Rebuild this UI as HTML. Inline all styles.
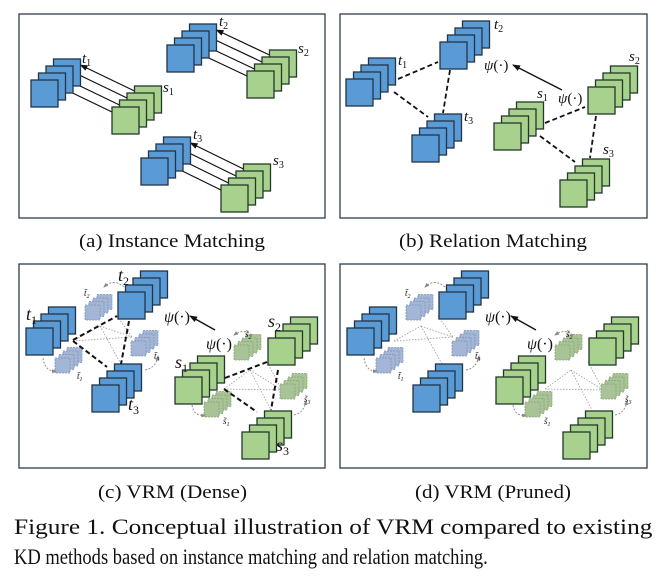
<!DOCTYPE html>
<html><head><meta charset="utf-8"><style>
html,body{margin:0;padding:0;background:#fff;width:672px;height:581px;overflow:hidden}
text{font-family:"Liberation Serif",serif;fill:#111}
</style></head><body>
<svg width="672" height="581" viewBox="0 0 672 581" xmlns="http://www.w3.org/2000/svg">
<defs>
<g id="bs" stroke="#223448" stroke-width="1.3" fill="#5b9bd5">
<rect x="22.5" y="-21" width="27" height="27"/><rect x="15" y="-14" width="27" height="27"/><rect x="7.5" y="-7" width="27" height="27"/><rect x="0" y="0" width="27" height="27"/></g>
<g id="gs" stroke="#223a28" stroke-width="1.3" fill="#a9d18e">
<rect x="22.5" y="-21" width="27" height="27"/><rect x="15" y="-14" width="27" height="27"/><rect x="7.5" y="-7" width="27" height="27"/><rect x="0" y="0" width="27" height="27"/></g>
<g id="fb" stroke="#7f95b8" stroke-width="0.8" stroke-dasharray="2,1" fill="#a3b6d6">
<rect x="12" y="-10.5" width="15" height="15"/><rect x="8" y="-7" width="15" height="15"/><rect x="4" y="-3.5" width="15" height="15"/><rect x="0" y="0" width="15" height="15"/></g>
<g id="fg" stroke="#86a277" stroke-width="0.8" stroke-dasharray="2,1" fill="#a8c497">
<rect x="12" y="-10.5" width="15" height="15"/><rect x="8" y="-7" width="15" height="15"/><rect x="4" y="-3.5" width="15" height="15"/><rect x="0" y="0" width="15" height="15"/></g>
<marker id="ah" markerWidth="8" markerHeight="6" refX="7" refY="3" orient="auto" markerUnits="userSpaceOnUse"><path d="M0,0 L8,3 L0,6 z" fill="#111"/></marker>
<marker id="ah2" markerWidth="5" markerHeight="4" refX="4" refY="2" orient="auto" markerUnits="userSpaceOnUse"><path d="M0,0 L5,2 L0,4 z" fill="#888"/></marker>
</defs>

<!-- frames -->
<g fill="none" stroke="#2d3d4d" stroke-width="1.3">
<rect x="19" y="14" width="306" height="204"/>
<rect x="340" y="14" width="307" height="204"/>
<rect x="19" y="264" width="306" height="204"/>
<rect x="340" y="264" width="307" height="204"/>
</g>

<!-- (a) -->
<g stroke="#111" stroke-width="1.2" marker-end="url(#ah)">
<line x1="112" y1="112" x2="58" y2="86"/><line x1="119.5" y1="105" x2="65.5" y2="79"/><line x1="127" y1="98" x2="73" y2="72"/><line x1="134.5" y1="91" x2="80.5" y2="65"/>
<line x1="247" y1="76" x2="194" y2="51"/><line x1="254.5" y1="69" x2="201.5" y2="44"/><line x1="262" y1="62" x2="209" y2="37"/><line x1="269.5" y1="55" x2="216.5" y2="30"/>
<line x1="221" y1="190" x2="168" y2="164"/><line x1="228.5" y1="183" x2="175.5" y2="157"/><line x1="236" y1="176" x2="183" y2="150"/><line x1="243.5" y1="169" x2="190.5" y2="143"/>
</g>
<use href="#bs" x="31" y="80"/><use href="#gs" x="112" y="107"/>
<use href="#bs" x="167" y="45"/><use href="#gs" x="247" y="71"/>
<use href="#bs" x="141" y="158"/><use href="#gs" x="221" y="185"/>
<g font-size="15" font-style="italic">
<text x="82" y="63">t<tspan font-size="10" font-style="normal" dy="3">1</tspan></text>
<text x="163" y="92">s<tspan font-size="10" font-style="normal" dy="3">1</tspan></text>
<text x="219" y="26">t<tspan font-size="10" font-style="normal" dy="3">2</tspan></text>
<text x="298" y="53">s<tspan font-size="10" font-style="normal" dy="3">2</tspan></text>
<text x="193" y="139">t<tspan font-size="10" font-style="normal" dy="3">3</tspan></text>
<text x="273" y="165">s<tspan font-size="10" font-style="normal" dy="3">3</tspan></text>
</g>
<text x="79" y="247" font-size="19" textLength="186" lengthAdjust="spacingAndGlyphs">(a) Instance Matching</text>

<!-- (b) -->
<use href="#bs" x="346" y="79"/><use href="#bs" x="440" y="42"/><use href="#bs" x="412" y="135"/>
<use href="#gs" x="494" y="123"/><use href="#gs" x="588" y="87"/><use href="#gs" x="560" y="180"/>
<g stroke="#111" stroke-width="1.8" stroke-dasharray="5,3">
<line x1="398" y1="79" x2="438" y2="62"/><line x1="394" y1="92" x2="428" y2="117"/><line x1="450" y1="70" x2="443" y2="113"/>
<line x1="545" y1="123" x2="585" y2="107"/><line x1="540" y1="136" x2="575" y2="162"/><line x1="596" y1="116" x2="590" y2="158"/>
</g>
<line x1="562" y1="90" x2="513" y2="65" stroke="#111" stroke-width="1.3" marker-end="url(#ah)"/>
<g font-size="15" font-style="italic">
<text x="484" y="70">ψ<tspan font-style="normal">(·)</tspan></text>
<text x="558" y="103">ψ<tspan font-style="normal">(·)</tspan></text>
<text x="398" y="65">t<tspan font-size="10" font-style="normal" dy="3">1</tspan></text>
<text x="494" y="29">t<tspan font-size="10" font-style="normal" dy="3">2</tspan></text>
<text x="464" y="121">t<tspan font-size="10" font-style="normal" dy="3">3</tspan></text>
<text x="537" y="98">s<tspan font-size="10" font-style="normal" dy="3">1</tspan></text>
<text x="629" y="61">s<tspan font-size="10" font-style="normal" dy="3">2</tspan></text>
<text x="603" y="154">s<tspan font-size="10" font-style="normal" dy="3">3</tspan></text>
</g>
<text x="399" y="247" font-size="19" textLength="188" lengthAdjust="spacingAndGlyphs">(b) Relation Matching</text>

<!-- (c) and (d) -->
<g id="cpanel">
<g stroke="#999" stroke-width="0.8" stroke-dasharray="1.5,1.5" fill="none">
<line x1="73" y1="341" x2="132" y2="337"/><line x1="73" y1="341" x2="100" y2="326"/><line x1="100" y1="326" x2="121" y2="364"/><line x1="100" y1="326" x2="132" y2="337"/><line x1="117" y1="316" x2="132" y2="337"/>
<line x1="224" y1="389" x2="282" y2="390"/><line x1="224" y1="389" x2="250" y2="370"/><line x1="250" y1="370" x2="271" y2="410"/><line x1="250" y1="370" x2="282" y2="390"/><line x1="267" y1="362" x2="282" y2="390"/>
</g>
<use href="#bs" x="26" y="328"/><use href="#bs" x="118" y="292"/><use href="#bs" x="92" y="385"/>
<use href="#gs" x="175" y="377"/><use href="#gs" x="268" y="338"/><use href="#gs" x="242" y="432"/>
<use href="#fb" x="85" y="305"/><use href="#fb" x="55" y="358"/><use href="#fb" x="131" y="341"/>
<use href="#fg" x="234" y="345"/><use href="#fg" x="204" y="402"/><use href="#fg" x="280" y="384"/>
<g stroke="#888" stroke-width="0.9" stroke-dasharray="2,1.5" fill="none" marker-end="url(#ah2)">
<path d="M124,287 Q114,278 104,287"/><path d="M43,358 Q45,372 56,371"/><path d="M145,370 Q156,368 158,356"/>
<path d="M252,335 Q244,328 234,335"/><path d="M192,405 Q194,417 205,415"/><path d="M294,415 Q304,413 306,401"/>
</g>
<line x1="215" y1="330" x2="190" y2="316" stroke="#111" stroke-width="1.4" marker-end="url(#ah)"/>
<g font-size="16" font-style="italic">
<text x="164" y="322">ψ<tspan font-style="normal">(·)</tspan></text>
<text x="206" y="349">ψ<tspan font-style="normal">(·)</tspan></text>
</g>
<g font-size="9" font-style="italic" fill="#555">
<text x="84" y="296">t̃<tspan font-size="6" dy="2">2</tspan></text>
<text x="77" y="379">t̃<tspan font-size="6" dy="2">1</tspan></text>
<text x="154" y="359">t̃<tspan font-size="6" dy="2">3</tspan></text>
<text x="245" y="337">s̃<tspan font-size="6" dy="2">2</tspan></text>
<text x="223" y="424">s̃<tspan font-size="6" dy="2">1</tspan></text>
<text x="304" y="402">s̃<tspan font-size="6" dy="2">3</tspan></text>
</g>
</g>
<g stroke="#111" stroke-width="2" stroke-dasharray="5,3">
<line x1="73" y1="340" x2="117" y2="316"/><line x1="73" y1="341" x2="107" y2="367"/><line x1="129" y1="321" x2="121" y2="364"/>
<line x1="225" y1="378" x2="267" y2="362"/><line x1="224" y1="389" x2="257" y2="412"/><line x1="278" y1="370" x2="271" y2="410"/>
</g>
<g font-size="18" font-style="italic">
<text x="26" y="320">t<tspan font-size="12" font-style="normal" dy="4">1</tspan></text>
<text x="118" y="281">t<tspan font-size="12" font-style="normal" dy="4">2</tspan></text>
<text x="128" y="410">t<tspan font-size="12" font-style="normal" dy="4">3</tspan></text>
<text x="175" y="368">s<tspan font-size="12" font-style="normal" dy="4">1</tspan></text>
<text x="268" y="327">s<tspan font-size="12" font-style="normal" dy="4">2</tspan></text>
<text x="276" y="451">s<tspan font-size="12" font-style="normal" dy="4">3</tspan></text>
</g>
<text x="98" y="498" font-size="19" textLength="149" lengthAdjust="spacingAndGlyphs">(c) VRM (Dense)</text>

<use href="#cpanel" x="321" y="0"/>
<text x="415" y="498" font-size="19" textLength="156" lengthAdjust="spacingAndGlyphs">(d) VRM (Pruned)</text>

<g transform="translate(14,0) scale(0.84,1)">
<text x="0" y="534" font-size="22" textLength="760" lengthAdjust="spacingAndGlyphs">Figure 1.  Conceptual illustration of VRM compared to existing</text>
<text x="0" y="564" font-size="22" textLength="564" lengthAdjust="spacingAndGlyphs">KD methods based on instance matching and relation matching.</text>
</g>
</svg>
</body></html>
